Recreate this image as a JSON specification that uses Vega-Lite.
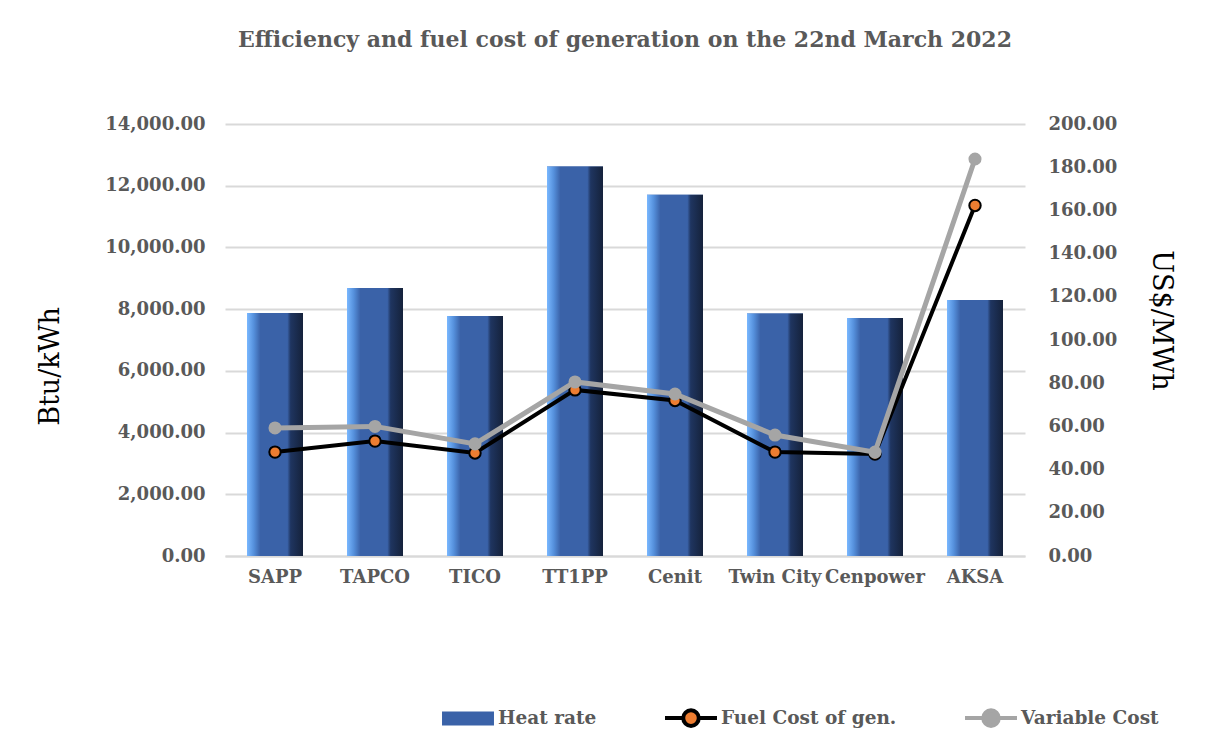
{
  "$schema": "https://vega.github.io/schema/vega-lite/v6.json",
  "width": 800,
  "height": 432,
  "autosize": "none",
  "padding": {"left": 225, "top": 124, "right": 184, "bottom": 188},
  "background": "white",
  "config": {
    "view": {"stroke": null},
    "font": "DejaVu Serif"
  },
  "title": {
    "text": "Efficiency and fuel cost of generation on the 22nd March 2022",
    "font": "DejaVu Serif",
    "fontSize": 22,
    "fontWeight": "bold",
    "color": "#595959",
    "offset": 63
  },
  "data": {
    "values": [
      {"plant": "SAPP", "heat_rate": 7875, "fuel_cost": 48.1, "variable_cost": 59.3},
      {"plant": "TAPCO", "heat_rate": 8685, "fuel_cost": 53.2, "variable_cost": 60.0},
      {"plant": "TICO", "heat_rate": 7778, "fuel_cost": 47.7, "variable_cost": 51.9},
      {"plant": "TT1PP", "heat_rate": 12620, "fuel_cost": 76.9, "variable_cost": 80.6},
      {"plant": "Cenit", "heat_rate": 11710, "fuel_cost": 72.0, "variable_cost": 75.0},
      {"plant": "Twin City", "heat_rate": 7860, "fuel_cost": 48.1, "variable_cost": 56.0},
      {"plant": "Cenpower", "heat_rate": 7713, "fuel_cost": 47.2, "variable_cost": 48.1},
      {"plant": "AKSA", "heat_rate": 8300, "fuel_cost": 162.3, "variable_cost": 183.8}
    ]
  },
  "encoding": {
    "x": {
      "field": "plant",
      "type": "nominal",
      "sort": null,
      "scale": {"paddingInner": 0.44, "paddingOuter": 0.22},
      "axis": {
        "title": null,
        "labelAngle": 0,
        "labelFont": "DejaVu Serif",
        "labelFontWeight": "bold",
        "labelFontSize": 18,
        "labelColor": "#595959",
        "labelPadding": 12,
        "ticks": false,
        "domainColor": "#d9d9d9",
        "domainWidth": 2
      }
    }
  },
  "layer": [
    {
      "layer": [
        {
          "mark": {"type": "bar"},
          "encoding": {
            "y": {
              "field": "heat_rate",
              "type": "quantitative",
              "scale": {"domain": [0, 14000]},
              "axis": {
                "title": "Btu/kWh",
                "values": [0, 2000, 4000, 6000, 8000, 10000, 12000, 14000],
                "format": ",.2f",
                "labelFont": "DejaVu Serif",
                "labelFontWeight": "bold",
                "labelFontSize": 18,
                "labelColor": "#595959",
                "labelPadding": 20,
                "ticks": false,
                "domain": false,
                "grid": true,
                "gridColor": "#d9d9d9",
                "gridWidth": 2,
                "titleFont": "DejaVu Serif",
                "titleFontWeight": "normal",
                "titleFontSize": 27,
                "titleColor": "#000000",
                "titleAngle": -90,
                "titleAlign": "center",
                "titleBaseline": "middle",
                "titleX": -175,
                "titleY": 242
              }
            },
            "color": {
              "datum": "Heat rate",
              "type": "nominal",
              "scale": {
                "domain": ["Heat rate", "Fuel Cost of gen.", "Variable Cost"],
                "range": ["#3a62a8", "#ed7d31", "#a5a5a5"]
              },
              "legend": {
                "title": null,
                "orient": "none",
                "direction": "horizontal",
                "legendX": 215,
                "legendY": 566,
                "symbolSize": 2700,
                "symbolStrokeWidth": 4,
                "columnPadding": 60,
                "labelLimit": 400,
                "labelFont": "DejaVu Serif",
                "labelFontWeight": "bold",
                "labelFontSize": 18.5,
                "labelColor": "#595959",
                "labelOffset": 2,
                "encode": {
                  "symbols": {
                    "update": {
                      "shape": {"signal": "datum.value === 'Heat rate' ? 'M-1,-0.27H1V0.27H-1Z' : 'M-1,0H-0.3M0.3,0H1M-0.3,0A0.3,0.3 0 1,1 0.3,0A0.3,0.3 0 1,1 -0.3,0Z'"},
                      "stroke": {"signal": "datum.value === 'Heat rate' ? 'transparent' : (datum.value === 'Fuel Cost of gen.' ? '#000000' : '#a5a5a5')"},
                      "strokeWidth": {"value": 4},
                      "opacity": {"value": 1},
                      "fillOpacity": {"value": 1}
                    }
                  }
                }
              }
            }
          }
        },
        {
          "mark": {
            "type": "bar",
            "color": {
              "gradient": "linear",
              "x1": 0, "y1": 0, "x2": 1, "y2": 0,
              "stops": [
                {"offset": 0, "color": "#7ab8ff"},
                {"offset": 0.12, "color": "#5590dc"},
                {"offset": 0.24, "color": "#3a62a8"},
                {"offset": 0.72, "color": "#3a62a8"},
                {"offset": 0.78, "color": "#1f3560"},
                {"offset": 1, "color": "#15223b"}
              ]
            }
          },
          "encoding": {
            "y": {"field": "heat_rate", "type": "quantitative"}
          }
        }
      ]
    },
    {
      "layer": [
        {
          "mark": {"type": "line", "strokeWidth": 4, "color": "#000000"},
          "encoding": {
            "y": {
              "field": "fuel_cost",
              "type": "quantitative",
              "scale": {"domain": [0, 200]},
              "axis": {
                "orient": "right",
                "title": "US$/MWh",
                "values": [0, 20, 40, 60, 80, 100, 120, 140, 160, 180, 200],
                "format": ",.2f",
                "labelFont": "DejaVu Serif",
                "labelFontWeight": "bold",
                "labelFontSize": 18,
                "labelColor": "#595959",
                "labelPadding": 23,
                "ticks": false,
                "domain": false,
                "grid": false,
                "titleFont": "DejaVu Serif",
                "titleFontWeight": "normal",
                "titleFontSize": 27,
                "titleColor": "#000000",
                "titleAngle": 90,
                "titleAlign": "center",
                "titleBaseline": "middle",
                "titleX": 135,
                "titleY": 196
              }
            }
          }
        },
        {
          "mark": {"type": "point", "filled": true, "stroke": "#000000", "strokeWidth": 2, "size": 130, "opacity": 1},
          "encoding": {
            "y": {"field": "fuel_cost", "type": "quantitative"},
            "color": {"datum": "Fuel Cost of gen.", "type": "nominal"}
          }
        },
        {
          "mark": {"type": "line", "strokeWidth": 5, "color": "#a5a5a5"},
          "encoding": {
            "y": {"field": "variable_cost", "type": "quantitative"}
          }
        },
        {
          "mark": {"type": "point", "filled": true, "size": 170, "opacity": 1},
          "encoding": {
            "y": {"field": "variable_cost", "type": "quantitative"},
            "color": {"datum": "Variable Cost", "type": "nominal"}
          }
        }
      ]
    }
  ],
  "resolve": {"scale": {"y": "independent"}}
}
